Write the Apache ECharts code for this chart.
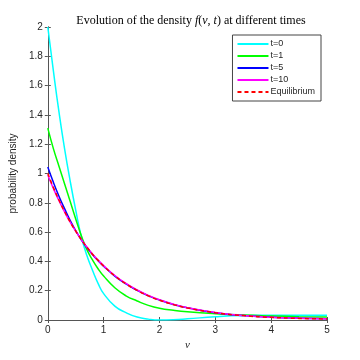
<!DOCTYPE html>
<html>
<head>
<meta charset="utf-8">
<script src="https://cdn.jsdelivr.net/npm/echarts@6/dist/echarts.min.js"></script>
<style>
  html, body { margin: 0; padding: 0; background: #fff; }
  #chart { width: 360px; height: 360px; }
</style>
</head>
<body>
<div id="chart"></div>
<script>
// sample points along v
const vGrid = [0, 0.1, 0.2, 0.3, 0.4, 0.5, 0.6, 0.7, 0.8, 0.9, 1.0, 1.2, 1.4, 1.6, 1.8, 2.0, 2.25, 2.5, 3, 3.5, 4, 4.5, 5]
const densT0 = [2.0, 1.7, 1.42, 1.17, 0.95, 0.75, 0.57, 0.44, 0.34, 0.25, 0.18, 0.095, 0.05, 0.02, 0.006, 0.0, 0.002, 0.008, 0.022, 0.03, 0.032, 0.033, 0.033]
const densT1 = [1.31, 1.17, 1.05, 0.93, 0.81, 0.69, 0.575, 0.48, 0.41, 0.35, 0.3, 0.22, 0.165, 0.13, 0.1, 0.08, 0.066, 0.056, 0.043, 0.034, 0.028, 0.023, 0.02]
const densT5 = [1.045, 0.94, 0.845, 0.76, 0.68, 0.61, 0.548, 0.495, 0.447, 0.405, 0.367, 0.3, 0.246, 0.202, 0.166, 0.136, 0.106, 0.083, 0.05, 0.03, 0.019, 0.012, 0.008]
const densT10 = [0.99, 0.898, 0.814, 0.738, 0.668, 0.606, 0.549, 0.498, 0.451, 0.409, 0.371, 0.304, 0.25, 0.205, 0.168, 0.138, 0.108, 0.084, 0.051, 0.031, 0.019, 0.012, 0.008]
const densEq = [1.0, 0.905, 0.819, 0.741, 0.67, 0.607, 0.549, 0.497, 0.449, 0.407, 0.368, 0.301, 0.247, 0.202, 0.165, 0.135, 0.105, 0.082, 0.05, 0.03, 0.018, 0.011, 0.007]

const axisColor = '#555'
const textColor = '#262626'
const sans = 'Liberation Sans, Arial, sans-serif'
const serif = 'Liberation Serif, Times New Roman, serif'

function pairs(arr) {
  return vGrid.map((v, i) => [v, arr[i]])
}

function curve(name, color, arr, dashed) {
  return {
    name: name,
    type: 'line',
    smooth: true,
    showSymbol: false,
    symbol: 'none',
    data: pairs(arr),
    lineStyle: { color: color, width: 1.5, type: dashed ? [4, 3] : 'solid' },
    itemStyle: { color: color },
    z: dashed ? 5 : 2
  }
}

const chart = echarts.init(document.getElementById('chart'))
chart.setOption({
  animation: false,
  title: {
    text: '{n|Evolution of the density }{i|f}{n|(}{i|v}{n|, }{i|t}{n|) at different times}',
    left: 186,
    textAlign: 'center',
    top: 10,
    textStyle: {
      rich: {
        n: { fontFamily: serif, fontSize: 12, fontWeight: 'normal', color: '#000' },
        i: { fontFamily: serif, fontSize: 12, fontWeight: 'normal', fontStyle: 'italic', color: '#000' }
      }
    }
  },
  grid: { left: 46, right: 33, top: 27, bottom: 40 },
  legend: {
    orient: 'vertical',
    right: 39,
    top: 35,
    itemWidth: 31,
    itemHeight: 2,
    itemGap: 2,
    padding: [4, 6, 4, 4],
    borderColor: '#444',
    borderWidth: 1,
    backgroundColor: '#fff',
    textStyle: { fontFamily: sans, fontSize: 9, color: textColor, lineHeight: 10, padding: [0, 0, 0, -3] },
    data: ['t=0', 't=1', 't=5', 't=10', 'Equilibrium']
  },
  xAxis: [
    {
      type: 'value',
      min: 0, max: 5, interval: 1,
      name: 'v',
      nameLocation: 'middle',
      nameGap: 20,
      nameTextStyle: { fontFamily: serif, fontStyle: 'italic', fontSize: 11, color: textColor },
      axisLine: { lineStyle: { color: axisColor } },
      axisTick: { inside: true, length: 3, lineStyle: { color: axisColor } },
      axisLabel: { fontFamily: sans, fontSize: 10, color: textColor, margin: 5 },
      splitLine: { show: false }
    },
    {
      type: 'value', position: 'top',
      min: 0, max: 5, interval: 1,
      axisLine: { lineStyle: { color: axisColor } },
      axisTick: { inside: true, length: 3, lineStyle: { color: axisColor } },
      axisLabel: { show: false },
      splitLine: { show: false }
    }
  ],
  yAxis: [
    {
      type: 'value',
      min: 0, max: 2, interval: 0.2,
      name: 'probability density',
      nameLocation: 'middle',
      nameGap: 26,
      nameTextStyle: { fontFamily: sans, fontSize: 10, color: textColor },
      axisLine: { show: true, lineStyle: { color: axisColor } },
      axisTick: { show: true, inside: true, length: 3, lineStyle: { color: axisColor } },
      axisLabel: { fontFamily: sans, fontSize: 10, color: textColor, margin: 5 },
      splitLine: { show: false }
    },
    {
      type: 'value', position: 'right',
      min: 0, max: 2, interval: 0.2,
      axisLine: { show: true, lineStyle: { color: axisColor } },
      axisTick: { show: true, inside: true, length: 3, lineStyle: { color: axisColor } },
      axisLabel: { show: false },
      splitLine: { show: false }
    }
  ],
  series: [
    curve('t=0', '#00ffff', densT0),
    curve('t=1', '#00ff00', densT1),
    curve('t=5', '#0000ff', densT5),
    curve('t=10', '#ff00ff', densT10),
    curve('Equilibrium', '#ff0000', densEq, true)
  ]
})
</script>
</body>
</html>
